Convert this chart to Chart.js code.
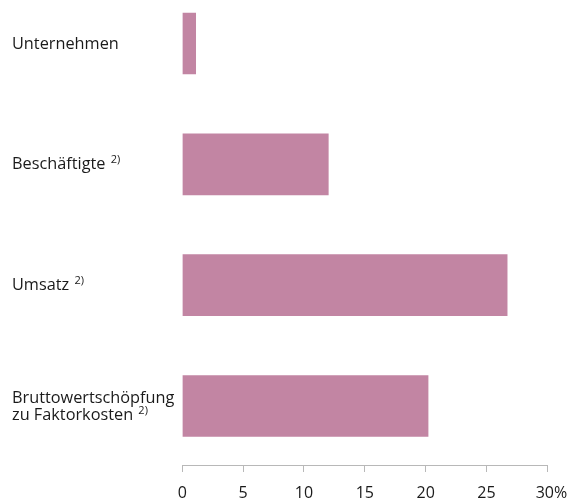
<!DOCTYPE html>
<html>
<head>
<meta charset="utf-8">
<script src="https://cdn.jsdelivr.net/npm/chart.js@4"></script>
<style>
  body { margin: 0; background: #fff; }
  #box { width: 577px; height: 500px; }
</style>
</head>
<body>
<div id="box"><canvas id="myChart"></canvas></div>
<script>
// categorie (righe del grafico) e valori in %
var categories = [['Unternehmen'], ['Beschäftigte'], ['Umsatz'], ['Bruttowertschöpfung', 'zu Faktorkosten']];
var footnotes = ['', '2)', '2)', '2)'];
var shares = [1.1, 12.0, 26.7, 20.2];
var xTicks = [0, 5, 10, 15, 20, 25, 30];

var FONT = '"Open Sans", "Noto Sans", sans-serif';
var barColor = '#c285a3';

// plugin per disegnare le etichette a sinistra con la nota in apice
var leftLabels = {
    id: 'leftLabels',
    afterDraw: function(chart) {
        var ctx = chart.ctx;
        var yScale = chart.scales.y;
        ctx.save();
        ctx.fillStyle = '#1a1a1a';
        ctx.textAlign = 'left';
        ctx.textBaseline = 'alphabetic';
        for (var i = 0; i < categories.length; i++) {
            var lines = categories[i];
            var cy = yScale.getPixelForValue(i);
            var lh = 17;
            var base = cy + 5 - (lines.length - 1) * lh / 2;
            for (var k = 0; k < lines.length; k++) {
                var y = base + k * lh;
                ctx.font = '16.3px ' + FONT;
                ctx.fillText(lines[k], 12, y);
                if (k == lines.length - 1 && footnotes[i]) {
                    var w = ctx.measureText(lines[k] + ' ').width;
                    ctx.font = '11px ' + FONT;
                    ctx.fillText(footnotes[i], 13 + w, y - 6);
                }
            }
        }
        ctx.restore();
    }
};

var ctx = document.getElementById('myChart').getContext('2d');
var myChart = new Chart(ctx, {
    type: 'bar',
    data: {
        datasets: [{
            data: shares.map(function(v, i) { return { x: v, y: i }; }),
            backgroundColor: barColor,
            borderWidth: 0,
            barThickness: 61
        }]
    },
    options: {
        indexAxis: 'y',
        responsive: true,
        maintainAspectRatio: false,
        animation: false,
        layout: { padding: { left: 182.3, right: 29.7, top: 0, bottom: 0 } },
        plugins: {
            legend: { display: false },
            tooltip: { enabled: false }
        },
        scales: {
            y: {
                type: 'linear',
                reverse: true,
                offset: false,
                min: -0.36,
                max: 3.488,
                display: false
            },
            x: {
                type: 'linear',
                min: 0,
                max: 30,
                afterBuildTicks: function(scale) {
                    scale.ticks = xTicks.map(function(v) { return { value: v }; });
                },
                afterFit: function(scale) {
                    scale.height = 35;
                    scale.paddingLeft = 0;
                    scale.paddingRight = 0;
                },
                grid: {
                    drawOnChartArea: false,
                    drawTicks: true,
                    tickLength: 7,
                    color: '#b8b8b8'
                },
                border: { display: true, color: '#b8b8b8', width: 1 },
                ticks: {
                    color: '#1a1a1a',
                    font: { family: FONT, size: 16 },
                    padding: 12,
                    maxRotation: 0,
                    callback: function(v) { return v == 30 ? '  30%' : String(v); }
                }
            }
        }
    },
    plugins: [leftLabels]
});
</script>
</body>
</html>
